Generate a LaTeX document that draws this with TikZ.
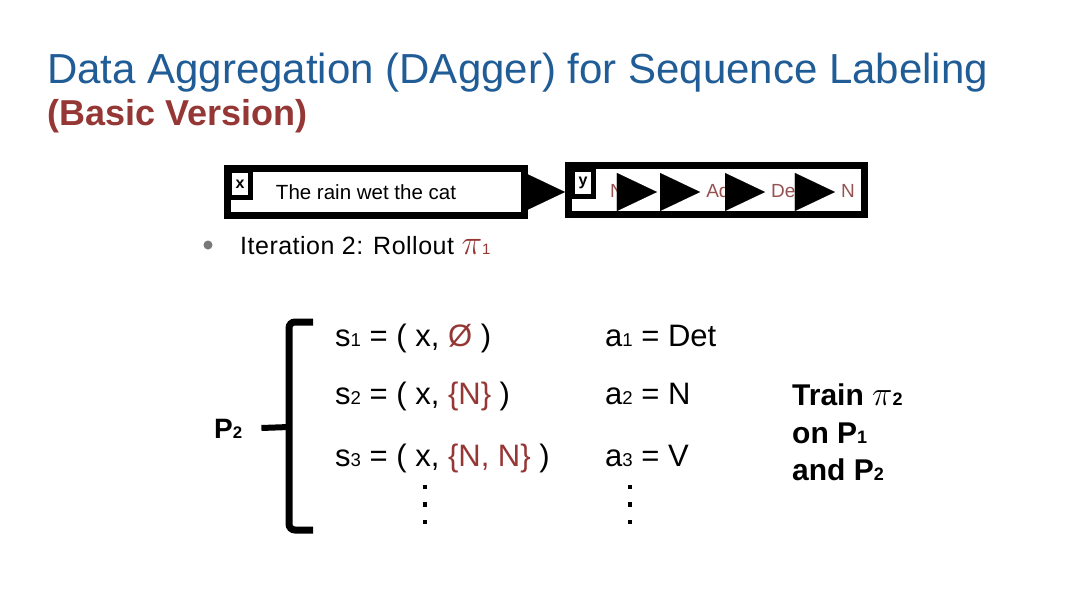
\documentclass[tikz,border=0pt]{standalone}
\usepackage{fix-cm}
\usepackage{fontspec}
\setmainfont{Liberation Sans}
\usetikzlibrary{arrows.meta,positioning}
\definecolor{titleblue}{RGB}{32,92,150}
\definecolor{darkred}{RGB}{149,55,53}
\definecolor{tagred}{RGB}{150,82,82}
\definecolor{bulletgray}{RGB}{120,120,120}
\newcommand{\fsz}[1]{\fontsize{#1}{#1}\selectfont}
\newcommand{\idx}[1]{\scalebox{0.6}{#1}}
\newcommand{\bigpi}[1]{\scalebox{#1}{$\pi$}}

\begin{document}
\begin{tikzpicture}[x=1pt,y=-1pt,
seqbox/.style={draw,line width=7pt,inner sep=0pt},
tagbox/.style={draw,fill=white,line width=5pt,minimum width=21pt,minimum height=27pt,inner sep=0pt,font=\fsz{16}\bfseries},
lab/.style={inner sep=0pt,text height=14pt,text depth=4pt,font=\fsz{19},text=tagred},
tri/.style={line width=0.1pt,-{Triangle[length=40pt,width=38pt]}},
line/.style={anchor=base west,inner sep=0pt,font=\fsz{31}},
bold/.style={anchor=base west,inner sep=0pt,font=\fsz{30}\bfseries},
dot/.style={fill=black}]
\fill[white] (0,0) rectangle (1080,608);
\useasboundingbox (0,0) rectangle (1080,608);
% heading
\node[anchor=base west,inner sep=0pt,font=\fsz{42},text=titleblue] (title) at (47,83) {Data Aggregation (DAgger) for Sequence Labeling};
\node[anchor=base west,inner sep=0pt,font=\fsz{36}\bfseries,text=darkred] (subtitle) at (47,125) {(Basic Version)};
% input and output sequences
\node[seqbox,minimum width=297pt,minimum height=47pt] (xbox) at (376,192) {};
\node[inner sep=0pt,font=\fsz{20.5}] (sent) at (366,192) {The rain wet the cat};
\node[tagbox] (xtag) at (240,184) {x};
\node[seqbox,minimum width=296pt,minimum height=49pt] (ybox) at (716.5,190) {};
\node[tagbox] (ytag) at (583,183) {y};
\node[lab] (y1) at (617,192) {N};
\node[lab] (y2) at (670,192) {N};
\node[lab] (y3) at (720,192) {Adj};
\node[lab] (y4) at (786,192) {Det};
\node[lab] (y5) at (848,192) {N};
\draw[tri] (xbox.east) -- (xbox.east -| ybox.west);
\draw[tri,shorten >=6pt] (y1) -- (y2);
\draw[tri,shorten >=6pt] (y2) -- (y3);
\draw[tri,shorten >=6pt] (y3) -- (y4);
\draw[tri,shorten >=6pt] (y4) -- (y5);
% bullet
\node[circle,fill=bulletgray,minimum size=9pt,inner sep=0pt] (bul) at (208,245) {};
\node[anchor=base west,inner sep=0pt,font=\fsz{25}\addfontfeature{LetterSpace=2}] (iter) at (240,254) {Iteration 2: Rollout \textcolor{darkred}{\bigpi{1.4}\idx{1}}};
% states and actions
\node[line] (s1) at (335,346) {s\idx{1} = ( x, \textcolor{darkred}{Ø} )};
\node[line] (s2) at (335,404) {s\idx{2} = ( x, \textcolor{darkred}{\{N\}} )};
\node[line] (s3) at (335,466) {s\idx{3} = ( x, \textcolor{darkred}{\{N, N\}} )};
\node[line] (a1) at (605,346) {a\idx{1} = Det};
\node[line] (a2) at (605,404) {a\idx{2} = N};
\node[line] (a3) at (605,466) {a\idx{3} = V};
\foreach \yy in {487,504.5,522}{
  \fill[dot] (422.7,\yy-2.3) rectangle ++(4.6,4.6);
  \fill[dot] (627.7,\yy-2.3) rectangle ++(4.6,4.6);
}
% bracket
\node[bold,font=\fsz{28}\bfseries] (p2) at (214,438) {P\idx{2}};
\draw[line width=7pt,rounded corners=6pt] (313,322) -- (289,322) -- (289,530) -- (313,530);
\draw[line width=6pt] ([xshift=19pt]p2.east |- 0,428) -- (289,427);
% training note
\node[bold] (train) at (792,405) {Train \bigpi{1.15}\idx{2}};
\node[bold] (onp) at (792,443) {on P\idx{1}};
\node[bold] (andp) at (792,480) {and P\idx{2}};
\end{tikzpicture}
\end{document}
